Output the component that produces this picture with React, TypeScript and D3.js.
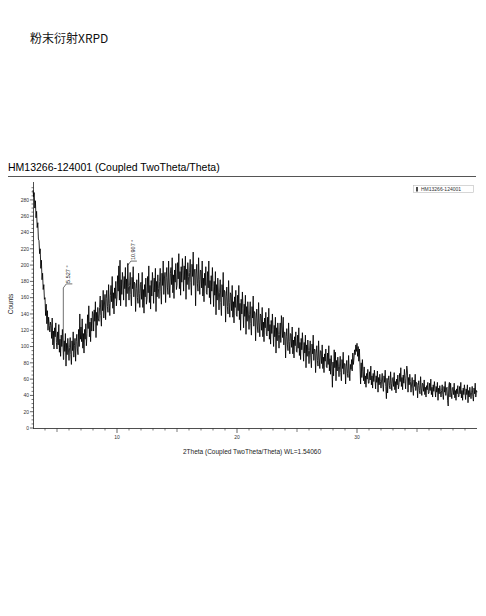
import React from "react";
import * as d3 from "d3";

const pageTitle = "粉末衍射XRPD";
const scanTitle = "HM13266-124001 (Coupled TwoTheta/Theta)";
const seriesName = "HM13266-124001";
const xAxisTitle = "2Theta (Coupled TwoTheta/Theta) WL=1.54060";
const yAxisTitle = "Counts";

const angleStart = 3.0;
const angleStep = 0.05;

const counts: number[] = [
  292, 284, 289, 270, 279, 258, 266, 246, 252, 232,
  230, 214, 220, 196, 206, 182, 190, 170, 176, 158,
  160, 138, 152, 128, 144, 120, 136, 126, 118, 130,
  126, 110, 135, 102, 119, 97, 123, 112, 129, 105,
  97, 118, 102, 127, 93, 109, 88, 114, 100, 121,
  103, 84, 107, 94, 116, 76, 104, 90, 110, 97,
  83, 99, 111, 90, 78, 107, 95, 118, 87, 101,
  110, 82, 106, 115, 97, 90, 121, 100, 140, 109,
  124, 106, 134, 98, 116, 92, 121, 109, 128, 101,
  116, 139, 122, 150, 112, 130, 106, 135, 119, 143,
  140, 119, 145, 131, 155, 111, 142, 126, 148, 134,
  131, 148, 162, 138, 125, 157, 144, 169, 135, 151,
  164, 133, 159, 169, 149, 142, 176, 153, 138, 163,
  175, 155, 186, 147, 166, 140, 172, 159, 180, 150,
  161, 187, 168, 199, 157, 206, 150, 182, 164, 191,
  181, 157, 186, 171, 197, 149, 183, 165, 202, 174,
  157, 175, 191, 164, 150, 185, 171, 198, 161, 179,
  177, 143, 171, 182, 160, 153, 190, 165, 148, 176,
  179, 158, 191, 148, 170, 141, 176, 161, 184, 152,
  158, 186, 166, 199, 154, 175, 146, 181, 162, 191,
  178, 153, 184, 167, 196, 143, 180, 161, 188, 171,
  159, 180, 196, 168, 152, 190, 175, 205, 164, 183,
  191, 154, 185, 197, 173, 164, 205, 178, 160, 190,
  197, 176, 209, 166, 188, 159, 194, 179, 202, 170,
  175, 203, 183, 214, 171, 192, 163, 198, 179, 208,
  193, 168, 199, 182, 211, 158, 195, 176, 203, 186,
  170, 191, 207, 179, 163, 201, 186, 216, 175, 194,
  195, 150, 189, 201, 177, 168, 209, 182, 164, 194,
  193, 172, 205, 162, 184, 155, 190, 175, 198, 166,
  164, 192, 172, 205, 160, 181, 152, 187, 168, 197,
  174, 149, 180, 163, 192, 139, 176, 157, 184, 167,
  145, 166, 182, 154, 138, 176, 161, 191, 150, 169,
  167, 130, 161, 173, 149, 140, 181, 154, 136, 166,
  164, 144, 175, 136, 155, 129, 161, 148, 169, 139,
  137, 163, 144, 175, 133, 153, 120, 158, 140, 167,
  147, 123, 152, 137, 163, 115, 149, 131, 155, 140,
  121, 139, 155, 128, 114, 149, 135, 162, 125, 143,
  141, 107, 135, 146, 124, 117, 154, 129, 112, 140,
  138, 120, 148, 112, 130, 106, 135, 123, 142, 115,
  113, 136, 119, 147, 109, 127, 103, 132, 116, 140,
  121, 100, 126, 112, 136, 92, 123, 107, 129, 115,
  98, 115, 129, 105, 138, 124, 111, 136, 102, 118,
  117, 86, 112, 122, 102, 95, 129, 106, 91, 116,
  115, 99, 124, 91, 108, 86, 112, 101, 118, 94,
  93, 114, 98, 123, 89, 105, 84, 110, 96, 117,
  101, 82, 105, 92, 114, 74, 102, 88, 108, 95,
  79, 95, 107, 86, 74, 103, 91, 114, 83, 97,
  96, 68, 92, 101, 83, 76, 107, 86, 73, 95,
  94, 79, 102, 73, 87, 68, 91, 82, 97, 75,
  74, 92, 78, 101, 70, 85, 66, 89, 76, 50,
  81, 64, 96, 74, 93, 58, 83, 70, 87, 76,
  63, 76, 88, 68, 58, 84, 73, 93, 66, 79,
  79, 54, 75, 83, 67, 62, 89, 70, 58, 78,
  72, 84, 70, 92, 78, 86, 96, 90, 102, 94,
  104, 88, 100, 82, 97, 76, 54, 80, 62, 84,
  69, 58, 75, 54, 64, 50, 67, 60, 72, 55,
  55, 69, 59, 76, 53, 64, 49, 67, 57, 71,
  61, 48, 64, 56, 70, 44, 62, 53, 66, 57,
  49, 59, 67, 53, 45, 64, 56, 71, 51, 36,
  61, 43, 58, 64, 52, 48, 69, 55, 46, 61,
  62, 51, 68, 47, 57, 43, 60, 53, 65, 48,
  53, 67, 57, 74, 51, 62, 47, 65, 55, 72,
  61, 48, 64, 76, 70, 44, 62, 53, 66, 57,
  44, 54, 62, 48, 40, 59, 51, 66, 46, 56,
  55, 37, 52, 58, 46, 42, 63, 49, 40, 55,
  54, 45, 59, 41, 50, 38, 52, 47, 56, 42,
  43, 55, 46, 60, 41, 50, 38, 53, 45, 57,
  48, 38, 51, 44, 56, 34, 49, 42, 52, 45,
  38, 46, 53, 41, 35, 51, 44, 57, 40, 48,
  50, 34, 27, 52, 56, 38, 55, 44, 36, 49,
  50, 41, 55, 37, 46, 34, 48, 42, 52, 38,
  39, 51, 42, 56, 37, 46, 34, 49, 41, 53,
  45, 35, 48, 41, 53, 31, 46, 38, 50, 43,
  36, 44, 51, 39, 33, 49, 42, 55, 38, 46,
  44,
];

const peakPositions = [5.527, 10.907];
const peakLabels = ["5.527 °", "10.907 °"];
const peakMarkerTops = [172, 200];

const xMajorTicks = [10, 20, 30];
const yMajorTicks = [0, 20, 40, 60, 80, 100, 120, 140, 160, 180, 200, 220, 240, 260, 280];

const FONT = "'Liberation Sans', Arial, sans-serif";

export default function App() {
  const x = d3.scaleLinear().domain([3, 40]).range([33, 477]);
  const y = d3.scaleLinear().domain([0, 302]).range([428, 182]);

  const pts: [number, number][] = counts.map((c, i) => [angleStart + i * angleStep, c]);
  const line = d3
    .line<[number, number]>()
    .x((d) => x(d[0]))
    .y((d) => y(d[1]));

  const xMinor = d3.range(4, 40, 1).filter((v) => !xMajorTicks.includes(v));
  const yMinor = d3.range(0, 300, 5).filter((v) => v % 20 !== 0);

  const axisColor = "#222";

  return (
    <svg
      width={486}
      height={616}
      style={{ position: "absolute", left: 0, top: 0, background: "#fff" }}
      fontFamily={FONT}
    >
      <rect x={0} y={0} width={486} height={616} fill="#fff" />
      <text x={30} y={43} fontSize={12} fill="#111" fontFamily="'Noto Sans CJK SC', sans-serif">
        {pageTitle}
      </text>

      <text x={8} y={171} fontSize={10.5} fill="#000">
        {scanTitle}
      </text>
      <line x1={8} x2={476} y1={176.5} y2={176.5} stroke="#555" strokeWidth={1} />

      {/* legend */}
      <rect x={413.5} y={185.5} width={60} height={7} fill="#fff" stroke="#bbb" strokeWidth={0.6} />
      <line x1={417} x2={417} y1={187} y2={191.5} stroke="#000" strokeWidth={1.4} />
      <text x={421} y={191} fontSize={5} fill="#333">
        {seriesName}
      </text>

      {/* y axis */}
      <line x1={33.5} x2={33.5} y1={182} y2={428.5} stroke={axisColor} strokeWidth={0.8} />
      {yMinor.map((v) => (
        <line key={"ym" + v} x1={31.5} x2={33.5} y1={y(v)} y2={y(v)} stroke={axisColor} strokeWidth={0.6} />
      ))}
      {yMajorTicks.map((v) => (
        <g key={"y" + v}>
          <line x1={30} x2={33.5} y1={y(v)} y2={y(v)} stroke={axisColor} strokeWidth={0.7} />
          <text x={29} y={y(v) + 1.8} fontSize={5} textAnchor="end" fill="#333">
            {v}
          </text>
        </g>
      ))}

      {/* x axis */}
      <line x1={33} x2={477} y1={428.5} y2={428.5} stroke={axisColor} strokeWidth={0.8} />
      {xMinor.map((v) => (
        <line
          key={"xm" + v}
          x1={x(v)}
          x2={x(v)}
          y1={428.5}
          y2={v % 5 === 0 ? 432 : 430.5}
          stroke={axisColor}
          strokeWidth={0.6}
        />
      ))}
      {xMajorTicks.map((v) => (
        <g key={"x" + v}>
          <line x1={x(v)} x2={x(v)} y1={428.5} y2={433} stroke={axisColor} strokeWidth={0.7} />
          <text x={x(v)} y={439} fontSize={5} textAnchor="middle" fill="#333">
            {v}
          </text>
        </g>
      ))}

      <text x={252} y={454} fontSize={6.5} textAnchor="middle" fill="#222">
        {xAxisTitle}
      </text>
      <text
        transform={`translate(13, 304) rotate(-90)`}
        fontSize={6.5}
        textAnchor="middle"
        fill="#222"
      >
        {yAxisTitle}
      </text>

      {/* data */}
      <path d={line(pts) || ""} fill="none" stroke="#000" strokeWidth={0.85} />

      {/* peak markers */}
      {peakPositions.map((p, i) => {
        const px = x(p);
        const idx = Math.round((p - angleStart) / angleStep);
        const base = y(counts[idx]);
        const top = y(peakMarkerTops[i]);
        return (
          <g key={"pk" + i}>
            <polyline
              points={`${px},${base} ${px},${top} ${px + 3},${top - 4} ${px + 9},${top - 4}`}
              fill="none"
              stroke="#333"
              strokeWidth={0.7}
            />
            <text
              transform={`translate(${px + 7}, ${top - 5}) rotate(-90)`}
              fontSize={5.5}
              fill="#222"
            >
              {peakLabels[i]}
            </text>
          </g>
        );
      })}
    </svg>
  );
}
